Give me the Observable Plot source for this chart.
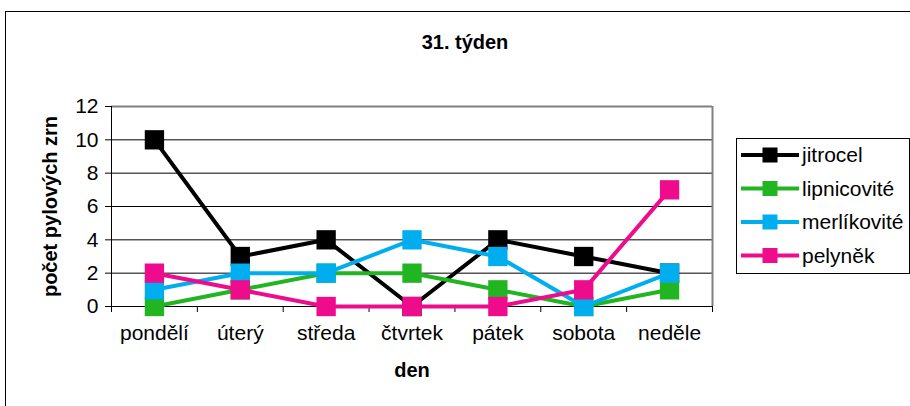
<!DOCTYPE html>
<html>
<head>
<meta charset="utf-8">
<script src="https://cdn.jsdelivr.net/npm/d3@7"></script>
<script src="https://cdn.jsdelivr.net/npm/@observablehq/plot@0.6"></script>
<style>
  html, body { margin: 0; padding: 0; background: #fff; overflow: hidden; }
  #wrap { position: relative; width: 910px; height: 406px; overflow: hidden; font-family: "Liberation Sans", Arial, sans-serif; }
  #frame { position: absolute; left: 5px; top: 11px; width: 1000px; height: 600px; border: 1px solid #000; box-sizing: border-box; }
  #title { position: absolute; left: 0; width: 930px; top: 30px; text-align: center; font-weight: bold; font-size: 20px; line-height: 24px; color: #000; }
  #chart { position: absolute; left: 0; top: 0; }
  #legend { position: absolute; left: 736px; top: 138px; }
</style>
</head>
<body>
<div id="wrap">
  <div id="frame"></div>
  <div id="title">31. týden</div>
  <div id="chart"></div>
  <div id="legend"></div>
</div>
<script>
const days = ["pondělí", "úterý", "středa", "čtvrtek", "pátek", "sobota", "neděle"];
const jitrocel = [10, 3, 4, 0, 4, 3, 2];
const lipnicovite = [0, 1, 2, 2, 1, 0, 1];
const merlikovite = [1, 2, 2, 4, 3, 0, 2];
const pelynek = [2, 1, 0, 0, 0, 1, 7];
const seriesNames = ["jitrocel", "lipnicovité", "merlíkovité", "pelyněk"];
const seriesValues = [jitrocel, lipnicovite, merlikovite, pelynek];
const seriesColors = ["#000000", "#22b522", "#00aeef", "#ee0c8c"];
const yTicks = [0, 2, 4, 6, 8, 10, 12];
const yTitle = "počet pylových zrn";
const xTitle = "den";

const seriesMarks = [];
seriesNames.forEach((name, k) => {
  const rows = seriesValues[k].map((v, i) => ({i, day: days[i], v, name}));
  seriesMarks.push(Plot.line(rows, {x: "i", y: "v", stroke: seriesColors[k], strokeWidth: 4}));
  seriesMarks.push(Plot.dot(rows, {x: "i", y: "v", symbol: "square", r: 10.9, fill: seriesColors[k], stroke: null}));
});

const boundaries = d3.range(days.length + 1).map(i => i - 0.5);

const chart = Plot.plot({
  width: 910,
  height: 406,
  marginLeft: 111,
  marginRight: 198,
  marginTop: 106,
  marginBottom: 100,
  x: {type: "linear", domain: [-0.5, days.length - 0.5]},
  y: {domain: [0, 12]},
  style: {fontFamily: "'Liberation Sans', Arial, sans-serif", fontSize: "21px", color: "#000", background: "transparent", overflow: "visible"},
  marks: [
    Plot.ruleY(yTicks.filter(t => t > 0 && t < 12), {stroke: "#000", strokeWidth: 1}),
    Plot.ruleY([12], {stroke: "#808080", strokeWidth: 2}),
    Plot.ruleX([days.length - 0.5], {stroke: "#808080", strokeWidth: 2}),
    Plot.ruleX([-0.5], {stroke: "#000", strokeWidth: 1}),
    Plot.ruleY([0], {stroke: "#000", strokeWidth: 1}),
    Plot.axisY({ticks: yTicks, tickSize: 6, tickPadding: 7, label: null, fontSize: 21}),
    Plot.axisX({ticks: boundaries, tickSize: 6, tickFormat: () => "", label: null}),
    Plot.axisX({ticks: d3.range(days.length), tickSize: 0, tickPadding: 19, tickFormat: i => days[i], label: null, fontSize: 21}),
    Plot.text([yTitle], {text: d => d, frameAnchor: "left", textAnchor: "middle", rotate: -90, dx: -61, fontWeight: "bold", fontSize: 20}),
    Plot.text([xTitle], {text: d => d, frameAnchor: "bottom", textAnchor: "middle", dy: 70, fontWeight: "bold", fontSize: 20}),
    ...seriesMarks
  ]
});
document.getElementById("chart").appendChild(chart);

// legend
const lw = 173, lh = 135;
const leg = d3.select("#legend").append("svg").attr("width", lw + 2).attr("height", lh + 2);
leg.append("rect").attr("x", 0.5).attr("y", 0.5).attr("width", lw).attr("height", lh)
  .attr("fill", "#fff").attr("stroke", "#000").attr("stroke-width", 1);
seriesNames.forEach((name, k) => {
  const cy = 17 + k * 33.5;
  const g = leg.append("g").attr("transform", `translate(0,${cy})`);
  g.append("line").attr("x1", 5).attr("x2", 63).attr("y1", 0).attr("y2", 0)
    .attr("stroke", seriesColors[k]).attr("stroke-width", 4);
  g.append("rect").attr("x", 34 - 7.5).attr("y", -7.5).attr("width", 15).attr("height", 15)
    .attr("fill", seriesColors[k]);
  g.append("text").attr("x", 66).attr("y", 0).attr("dy", "0.35em")
    .attr("font-family", "'Liberation Sans', Arial, sans-serif").attr("font-size", 21)
    .attr("fill", "#000").text(name);
});
</script>
</body>
</html>
